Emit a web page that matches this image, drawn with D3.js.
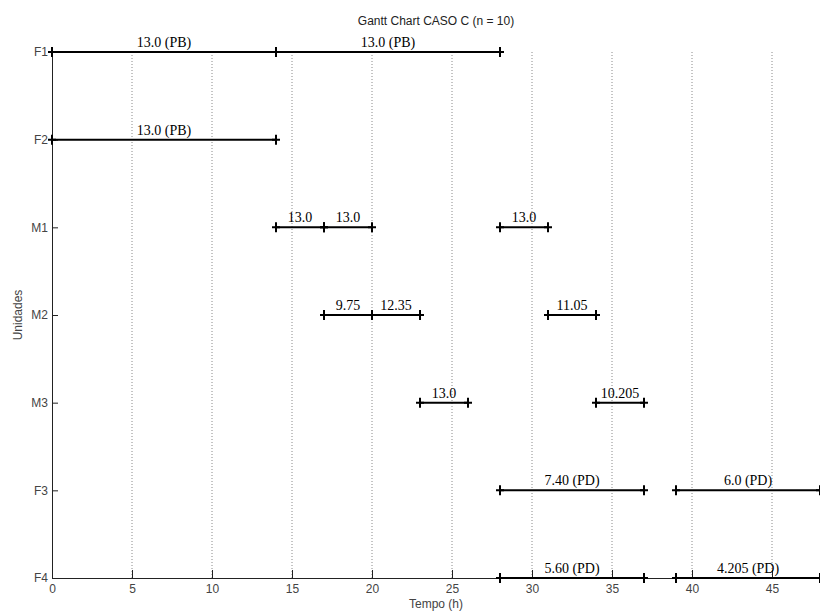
<!DOCTYPE html>
<html>
<head>
<meta charset="utf-8">
<script src="https://cdn.jsdelivr.net/npm/d3@7"></script>
<style>
  html, body { margin: 0; padding: 0; background: #fff; }
  svg { display: block; }
</style>
</head>
<body>
<div id="chart"></div>
<script>
// units, top to bottom
const units = ['F1', 'F2', 'M1', 'M2', 'M3', 'F3', 'F4'];

// tasks (one entry per bar)
const taskUnit  = ['F1', 'F1', 'F2', 'M1', 'M1', 'M1', 'M2', 'M2', 'M2', 'M3', 'M3', 'F3', 'F3', 'F4', 'F4'];
const taskStart = [0, 14, 0, 14, 17, 28, 17, 20, 31, 23, 34, 28, 39, 28, 39];
const taskEnd   = [14, 28, 14, 17, 20, 31, 20, 23, 34, 26, 37, 37, 48, 37, 48];
const taskLabel = ['13.0 (PB)', '13.0 (PB)', '13.0 (PB)', '13.0', '13.0', '13.0',
                   '9.75', '12.35', '11.05', '13.0', '10.205',
                   '7.40 (PD)', '6.0 (PD)', '5.60 (PD)', '4.205 (PD)'];

const xTicks = [0, 5, 10, 15, 20, 25, 30, 35, 40, 45];

const title = 'Gantt Chart CASO C (n = 10)';
const xTitle = 'Tempo (h)';
const yTitle = 'Unidades';

const tasks = taskUnit.map((u, i) => ({ unit: u, start: taskStart[i], end: taskEnd[i], label: taskLabel[i] }));

const W = 820, H = 612;
const margin = { top: 52, right: 0, bottom: 34, left: 52 };
const width = W - margin.left - margin.right;
const height = H - margin.top - margin.bottom;

const svg = d3.select('#chart')
  .append('svg')
  .attr('width', W)
  .attr('height', H);

const g = svg.append('g')
  .attr('transform', `translate(${margin.left},${margin.top})`);

// Scales
const x = d3.scaleLinear().domain([0, 48]).range([0, width]);
const y = d3.scalePoint().domain(units).range([0, height]);

// Dotted grid
g.append('g')
  .selectAll('line')
  .data(xTicks.filter(d => d > 0))
  .enter()
  .append('line')
  .attr('x1', d => x(d)).attr('x2', d => x(d))
  .attr('y1', 0).attr('y2', height)
  .attr('stroke', '#8a8a8a')
  .attr('stroke-width', 1)
  .attr('stroke-dasharray', '1,2');

// Axes
const xAxis = g.append('g')
  .attr('transform', `translate(0,${height})`)
  .call(d3.axisBottom(x).tickValues(xTicks).tickSizeInner(-8).tickSizeOuter(0).tickPadding(4));

const yAxis = g.append('g')
  .call(d3.axisLeft(y).tickSizeInner(-6).tickSizeOuter(0).tickPadding(4));

[xAxis, yAxis].forEach(a => {
  a.select('.domain').attr('stroke', '#222');
  a.selectAll('.tick line').attr('stroke', '#222');
  a.selectAll('.tick text')
    .attr('fill', '#444')
    .style('font-family', 'Liberation Sans, Arial, sans-serif')
    .style('font-size', '12px');
});
xAxis.selectAll('.tick text').attr('dy', '0.9em');

// Bars
const bars = g.append('g');

bars.selectAll('line.bar')
  .data(tasks)
  .enter()
  .append('line')
  .attr('class', 'bar')
  .attr('x1', d => x(d.start)).attr('x2', d => x(d.end))
  .attr('y1', d => y(d.unit)).attr('y2', d => y(d.unit))
  .attr('stroke', '#000')
  .attr('stroke-width', 2);

// '+' markers at both ends of every bar
const ends = tasks.flatMap(d => [{ unit: d.unit, t: d.start }, { unit: d.unit, t: d.end }]);
const plus = d3.symbol().type(d3.symbolCross).size(0);
bars.selectAll('path.cap')
  .data(ends)
  .enter()
  .append('path')
  .attr('class', 'cap')
  .attr('transform', d => `translate(${x(d.t)},${y(d.unit)})`)
  .attr('d', 'M-4,0H4M0,-5V5')
  .attr('fill', 'none')
  .attr('stroke', '#000')
  .attr('stroke-width', 2);

bars.selectAll('text')
  .data(tasks)
  .enter()
  .append('text')
  .attr('x', d => x((d.start + d.end) / 2))
  .attr('y', d => y(d.unit) - 5)
  .attr('text-anchor', 'middle')
  .style('font-family', 'Liberation Serif, Times New Roman, serif')
  .style('font-size', '14px')
  .attr('fill', '#000')
  .text(d => d.label);

// Titles
svg.append('text')
  .attr('x', margin.left + width / 2)
  .attr('y', 25)
  .attr('text-anchor', 'middle')
  .style('font-family', 'Liberation Sans, Arial, sans-serif')
  .style('font-size', '12px')
  .attr('fill', '#222')
  .text(title);

svg.append('text')
  .attr('x', margin.left + width / 2)
  .attr('y', 608)
  .attr('text-anchor', 'middle')
  .style('font-family', 'Liberation Sans, Arial, sans-serif')
  .style('font-size', '12px')
  .attr('fill', '#444')
  .text(xTitle);

svg.append('text')
  .attr('transform', `translate(22,${margin.top + height / 2}) rotate(-90)`)
  .attr('text-anchor', 'middle')
  .style('font-family', 'Liberation Sans, Arial, sans-serif')
  .style('font-size', '12px')
  .attr('fill', '#444')
  .text(yTitle);
</script>
</body>
</html>
